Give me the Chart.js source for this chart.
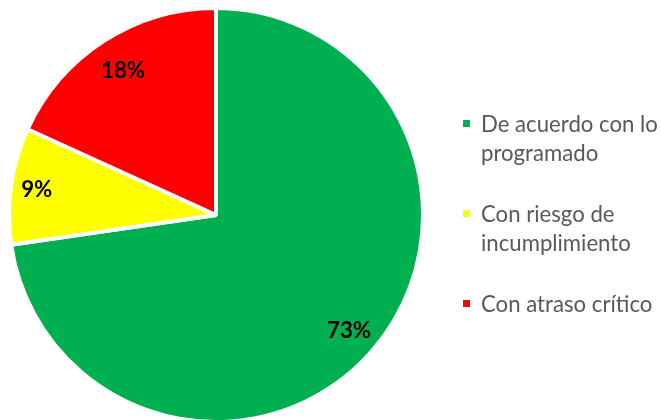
<!DOCTYPE html>
<html>
<head>
<meta charset="utf-8">
<script src="https://cdn.jsdelivr.net/npm/chart.js@4/dist/chart.umd.min.js"></script>
<style>
  html, body { margin: 0; padding: 0; background: #ffffff; overflow: hidden; }
  #wrap { position: relative; width: 661px; height: 424px; }
</style>
</head>
<body>
<div id="wrap"><canvas id="c"></canvas></div>
<script>
// ---- data ----
const categories = [["De acuerdo con lo", "programado"], ["Con riesgo de", "incumplimiento"], ["Con atraso crítico"]];
const percentValues = [72.7, 9.1, 18.2];
const percentLabels = ["73%", "9%", "18%"];
const sliceColors = ["#00B050", "#FFFF00", "#FF0000"];

// ---- style ----
const FONT = 'Lato, "Open Sans", "DejaVu Sans", sans-serif';
const labelRadiusFrac = [0.85, 0.875, 0.83];

function fitSize(ctx, weight, text, targetW) {
  ctx.font = weight + ' 100px ' + FONT;
  return 100 * targetW / ctx.measureText(text).width;
}

const dataLabelPlugin = {
  id: 'dataLabelPlugin',
  afterDatasetsDraw(chart) {
    const ctx = chart.ctx;
    const meta = chart.getDatasetMeta(0);
    const size = fitSize(ctx, 'bold', '73%', 44);
    ctx.save();
    ctx.font = 'bold ' + size + 'px ' + FONT;
    ctx.fillStyle = '#000000';
    ctx.textAlign = 'center';
    ctx.textBaseline = 'alphabetic';
    meta.data.forEach((arc, i) => {
      const p = arc.getProps(['x', 'y', 'startAngle', 'endAngle', 'outerRadius'], true);
      const mid = (p.startAngle + p.endAngle) / 2;
      const r = p.outerRadius * labelRadiusFrac[i];
      const x = p.x + Math.cos(mid) * r;
      const y = p.y + Math.sin(mid) * r;
      ctx.fillText(percentLabels[i], x, y + size * 0.34);
    });
    ctx.restore();
  }
};

const legendPlugin = {
  id: 'sideLegend',
  afterDraw(chart) {
    const ctx = chart.ctx;
    let size = fitSize(ctx, 'normal', 'De acuerdo con lo', 177);
    const s2 = fitSize(ctx, 'normal', 'Con atraso crítico', 178);
    size = Math.min(size, s2);
    ctx.save();
    ctx.font = size + 'px ' + FONT;
    ctx.textAlign = 'left';
    ctx.textBaseline = 'alphabetic';
    const labels = chart.data.labels;
    const colors = chart.data.datasets[0].backgroundColor;
    labels.forEach((lab, i) => {
      const cy = 123.5 + 90 * i;
      ctx.fillStyle = colors[i];
      ctx.fillRect(463, cy - 3.5, 7, 7);
      ctx.fillStyle = '#595959';
      const lines = Array.isArray(lab) ? lab : [lab];
      lines.forEach((ln, j) => {
        ctx.fillText(ln, 481, cy + 8 + 29.5 * j);
      });
    });
    ctx.restore();
  }
};

new Chart(document.getElementById('c'), {
  type: 'pie',
  data: {
    labels: categories,
    datasets: [{
      data: percentValues,
      backgroundColor: sliceColors,
      borderColor: '#ffffff',
      borderWidth: 4
    }]
  },
  options: {
    responsive: true,
    maintainAspectRatio: false,
    animation: false,
    events: [],
    layout: { padding: { left: 7, right: 236, top: 6, bottom: 0 } },
    plugins: {
      legend: { display: false },
      tooltip: { enabled: false },
      title: { display: false }
    }
  },
  plugins: [dataLabelPlugin, legendPlugin]
});
</script>
</body>
</html>
